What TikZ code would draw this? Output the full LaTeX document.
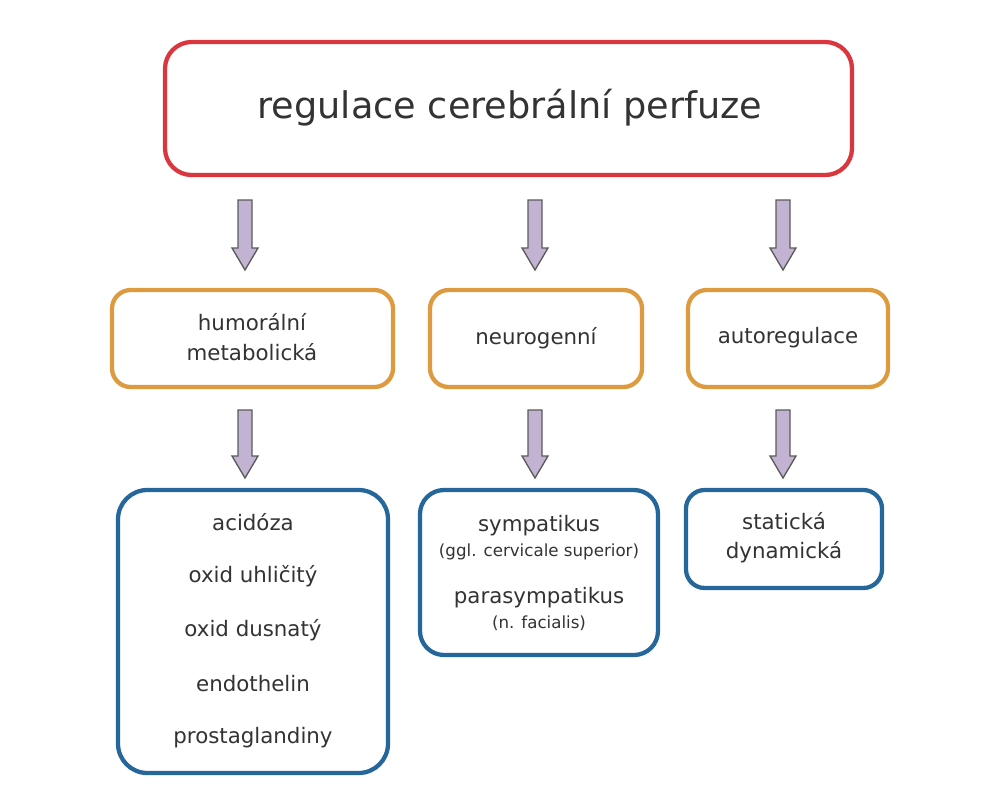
\documentclass[tikz,border=0pt]{standalone}
\usepackage{fontspec}
\setmainfont{DejaVu Sans}
\usetikzlibrary{calc}
\definecolor{redb}{HTML}{D9363E}
\definecolor{orb}{HTML}{DE9A3E}
\definecolor{blb}{HTML}{25679A}
\definecolor{arf}{HTML}{C3B3D3}
\definecolor{ard}{HTML}{5A5A5A}
\definecolor{txt}{HTML}{333333}
\tikzset{
 bx/.style={line width=3.2pt, rounded corners=14pt, fill=white},
 lbl/.style={text=txt, font=\fontsize{16}{22}\selectfont, align=center},
 sm/.style={text=txt, font=\fontsize{12.5}{14}\selectfont, align=center},
}
\newcommand{\blockarrow}[2]{%
 \draw[fill=arf, draw=ard, line width=1pt]
  ($(#1)+(-7,0)$) -- ($(#2)+(-7,-22)$) -- ($(#2)+(-13,-22)$) -- (#2) -- ($(#2)+(13,-22)$) -- ($(#2)+(7,-22)$) -- ($(#1)+(7,0)$) -- cycle;}
\begin{document}
\begin{tikzpicture}[x=0.75pt,y=-0.75pt]
\useasboundingbox (0,0) rectangle (1004,800);
\draw[bx, draw=redb, rounded corners=20pt] (165,42) rectangle (852,175);
\node[text=txt, font=\fontsize{27.5}{30}\selectfont] (top) at (510,108) {regulace cerebrální perfuze};
\draw[bx, draw=orb] (112,290) rectangle (393,387);
\draw[bx, draw=orb] (430,290) rectangle (642,387);
\draw[bx, draw=orb] (688,290) rectangle (888,387);
\node[lbl] (h) at (252,337) {humorální\\metabolická};
\node[lbl] (n) at (536,338) {neurogenní};
\node[lbl] (a) at (788,338) {autoregulace};
\draw[bx, draw=blb, rounded corners=22pt] (118,490) rectangle (388,773);
\draw[bx, draw=blb, rounded corners=18pt] (420,490) rectangle (658,655);
\draw[bx, draw=blb, rounded corners=14pt] (686,490) rectangle (882,588);
\node[lbl] (b1a) at (253,522) {acidóza};
\node[lbl] (b1b) at (253,576) {oxid uhličitý};
\node[lbl] (b1c) at (253,630) {oxid dusnatý};
\node[lbl] (b1d) at (253,684) {endothelin};
\node[lbl] (b1e) at (253,738) {prostaglandiny};
\node[lbl] (s) at (539,526) {sympatikus};
\node[sm] (s2) at (539,552) {(ggl. cervicale superior)};
\node[lbl] (p) at (539,598) {parasympatikus};
\node[sm] (p2) at (539,623) {(n. facialis)};
\node[lbl] (st) at (784,538) {statická\\dynamická};
\coordinate (t1) at (245,200); \coordinate (e1) at (245,270);
\coordinate (t2) at (535,200); \coordinate (e2) at (535,270);
\coordinate (t3) at (783,200); \coordinate (e3) at (783,270);
\coordinate (u1) at (245,410); \coordinate (f1) at (245,478);
\coordinate (u2) at (535,410); \coordinate (f2) at (535,478);
\coordinate (u3) at (783,410); \coordinate (f3) at (783,478);
\blockarrow{t1}{e1}\blockarrow{t2}{e2}\blockarrow{t3}{e3}
\blockarrow{u1}{f1}\blockarrow{u2}{f2}\blockarrow{u3}{f3}
\end{tikzpicture}
\end{document}
